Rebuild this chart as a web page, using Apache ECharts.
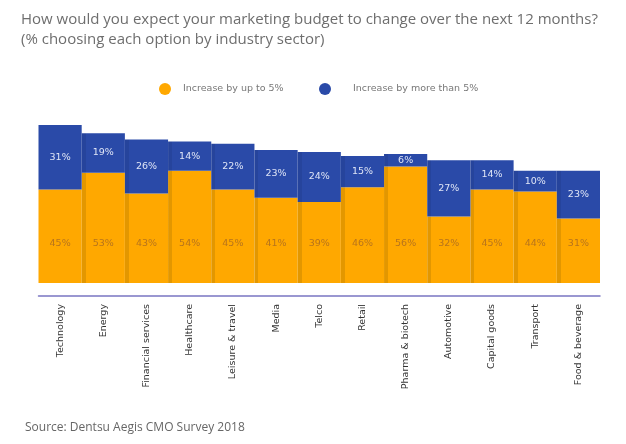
<!DOCTYPE html>
<html>
<head>
<meta charset="utf-8">
<script src="https://cdn.jsdelivr.net/npm/echarts@6/dist/echarts.min.js"></script>
<style>html,body{margin:0;padding:0;background:#fff}#c{width:626px;height:444px}</style>
</head>
<body>
<div id="c"></div>
<script>
var categories = ["Technology","Energy","Financial services","Healthcare","Leisure & travel","Media","Telco","Retail","Pharma & biotech","Automotive","Capital goods","Transport","Food & beverage"];
var upTo5 = [45,53,43,54,45,41,39,46,56,32,45,44,31];
var moreThan5 = [31,19,26,14,22,23,24,15,6,27,14,10,23];
var seriesNames = ["Increase by up to 5%","Increase by more than 5%"];

function strip(base, dark){
  return {type:'linear',x:0,y:0,x2:1,y2:0,colorStops:[
    {offset:0,color:dark},{offset:0.09,color:dark},{offset:0.09,color:base},{offset:1,color:base}]};
}
function build(vals, base, dark){
  return vals.map(function(v,i){
    return i===0 ? {value:v} : {value:v,itemStyle:{color:strip(base,dark)}};
  });
}
var legendText = {fontFamily:'DejaVu Sans',fontSize:9.5,color:'#777'};
var chart = echarts.init(document.getElementById('c'));
chart.setOption({
  animation:false,
  title:{
    text:"How would you expect your marketing budget to change over the next 12 months?\n(% choosing each option by industry sector)",
    left:16, top:5,
    textStyle:{fontFamily:'Open Sans',fontSize:15,fontWeight:'normal',color:'#6e6e6e',lineHeight:20}
  },
  legend:[
    {left:154, top:78, icon:'circle', itemWidth:26, itemHeight:12, textStyle:legendText, data:[seriesNames[0]]},
    {left:314, top:78, icon:'circle', itemWidth:46, itemHeight:12, textStyle:legendText, data:[seriesNames[1]]}
  ],
  graphic:[{type:'text',left:25,top:422,style:{text:'Source: Dentsu Aegis CMO Survey 2018',fontFamily:'Open Sans',fontSize:12,fill:'#666'}}],
  grid:{left:38.5,right:26,top:116.6,bottom:148},
  xAxis:{
    type:'category', data:categories,
    axisLine:{onZero:false,lineStyle:{color:'#7a76c2',width:1.5}},
    axisTick:{show:false},
    axisLabel:{rotate:90,interval:0,margin:8,fontFamily:'DejaVu Sans',fontSize:9.5,color:'#333'}
  },
  yAxis:{type:'value',min:-6.25,max:80,show:false,splitLine:{show:false}},
  series:[
    {name:seriesNames[0],type:'bar',stack:'s',barCategoryGap:'0%',
     itemStyle:{color:'#ffa800'},
     data:build(upTo5,'#ffa800','#e39700'),
     label:{show:true,position:'insideBottom',distance:34,formatter:'{c}%',fontFamily:'DejaVu Sans',fontSize:9.5,color:'#b7741c'}},
    {name:seriesNames[1],type:'bar',stack:'s',barCategoryGap:'0%',
     itemStyle:{color:'#2a4aa8'},
     data:build(moreThan5,'#2a4aa8','#26449c'),
     label:{show:true,position:'inside',formatter:'{c}%',fontFamily:'DejaVu Sans',fontSize:9.5,color:'#dfe5f6'}}
  ]
});
</script>
</body>
</html>
